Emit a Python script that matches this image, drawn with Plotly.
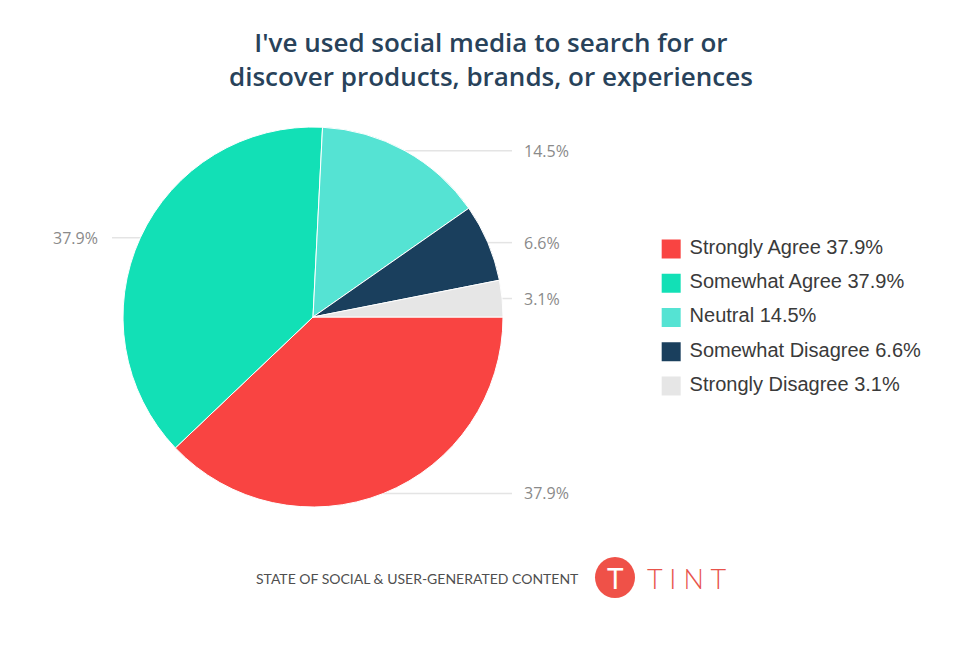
import math
import plotly.graph_objects as go

# ---- data ----
answers = ["Strongly Agree", "Somewhat Agree", "Neutral", "Somewhat Disagree", "Strongly Disagree"]
shares = [37.9, 37.9, 14.5, 6.6, 3.1]
colors = ["#f94442", "#12e0b6", "#55e3d3", "#1a3f5d", "#e6e6e6"]

title_lines = ["I've used social media to search for or", "discover products, brands, or experiences"]
footer_text = "STATE OF SOCIAL & USER-GENERATED CONTENT"
brand = "TINT"

# the page body has an 8px margin, so the figure is drawn inside it
OFF = 8
W, H = 973 - 2 * OFF, 657 - 2 * OFF
CX, CY, R = 313, 317, 190  # pie centre / radius in window px
LABEL_RIGHT_X = 522
LABEL_LEFT_X = 100
LINE_GAP = 10


def px_x(x):
    return (x - OFF) / W


def px_y(y):
    return 1 - (y - OFF) / H


fig = go.Figure()

fig.add_trace(go.Pie(
    labels=answers, values=shares, sort=False, direction="clockwise", rotation=90,
    marker=dict(colors=colors, line=dict(color="white", width=1)),
    textinfo="none", hoverinfo="label+percent", showlegend=False,
    domain=dict(x=[px_x(CX - R), px_x(CX + R)], y=[px_y(CY + R), px_y(CY - R)]),
))

# outside labels with horizontal connectors, placed from the slice mid angles
total = sum(shares)
shapes = []
annotations = []
cum = 0
for val in shares:
    mid = (cum + val / 2) / total * 2 * math.pi  # from 3 o'clock, clockwise
    cum += val
    y = CY + R * math.sin(mid)
    dx = math.sqrt(max(R ** 2 - (y - CY) ** 2, 0))
    if math.cos(mid) >= 0:
        x0, x1, lx, anchor = CX + dx, LABEL_RIGHT_X - LINE_GAP, LABEL_RIGHT_X, "left"
    else:
        x0, x1, lx, anchor = LABEL_LEFT_X + 12, CX - dx, LABEL_LEFT_X, "right"
    shapes.append(dict(type="line", xref="paper", yref="paper", x0=px_x(x0), x1=px_x(x1),
                       y0=px_y(y), y1=px_y(y), line=dict(color="#e4e4e4", width=1.5), layer="below"))
    annotations.append(dict(text=f"{val}%", x=px_x(lx), y=px_y(y), xref="paper", yref="paper",
                            xanchor=anchor, yanchor="middle", showarrow=False,
                            font=dict(family="Open Sans", size=16, color="#8a8a8a")))

# legend drawn as square markers with text
fig.add_trace(go.Scatter(
    x=[0] * len(answers), y=list(range(len(answers))), mode="markers+text",
    marker=dict(symbol="square", size=19, color=colors, line=dict(width=0)),
    text=[f"&nbsp;{a} {v}%" for a, v in zip(answers, shares)], textposition="middle right",
    textfont=dict(family="Liberation Sans, Arial", size=20, color="#3a3a3a"),
    hoverinfo="skip", showlegend=False, cliponaxis=False,
))

# title
annotations.append(dict(text="<br>".join(title_lines), x=px_x(491), y=px_y(59), xref="paper", yref="paper",
                        xanchor="center", yanchor="middle", showarrow=False, align="center",
                        font=dict(family="Open Sans", size=26, color="#28425a", weight=600)))
# footer
annotations.append(dict(text=footer_text, x=px_x(254), y=px_y(578), xref="paper", yref="paper",
                        xanchor="left", yanchor="middle", showarrow=False,
                        font=dict(family="Lato", size=14, color="#4f4f4f")))
annotations.append(dict(text="T", x=px_x(615), y=px_y(578), xref="paper", yref="paper",
                        xanchor="center", yanchor="middle", showarrow=False,
                        font=dict(family="Lato", size=28, color="white", weight="normal")))
annotations.append(dict(text="&nbsp;".join(brand), x=px_x(645), y=px_y(578), xref="paper", yref="paper",
                        xanchor="left", yanchor="middle", showarrow=False,
                        font=dict(family="Lato", size=27, color="#e8534b", weight=300)))
shapes.append(dict(type="circle", xref="paper", yref="paper", x0=px_x(595), x1=px_x(635),
                   y0=px_y(598), y1=px_y(557), fillcolor="#ef5148", line=dict(width=0)))

fig.update_layout(
    width=W, height=H, margin=dict(l=0, r=0, t=0, b=0),
    paper_bgcolor="white", plot_bgcolor="white",
    xaxis=dict(domain=[px_x(662), 1], range=[-0.5, 16], visible=False, fixedrange=True),
    yaxis=dict(domain=[px_y(249 + 4.5 * 34.25), px_y(249 - 0.5 * 34.25)], range=[4.5, -0.5],
               visible=False, fixedrange=True),
    shapes=shapes, annotations=annotations,
)

fig.write_html("out.html")
